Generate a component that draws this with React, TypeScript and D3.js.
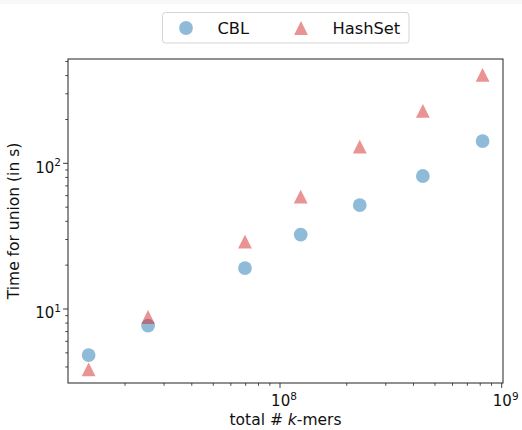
import React from 'react'
import * as d3 from 'd3'

// total number of k-mers per dataset, and union times (s)
const kmers = [1.37e7, 2.54e7, 6.95e7, 1.24e8, 2.29e8, 4.41e8, 8.2e8]
const cblTimes = [4.83, 7.68, 19.1, 32.4, 51.7, 81.8, 142]
const hashsetTimes = [3.85, 8.81, 29.0, 59, 130, 229, 404]

const seriesNames = ['CBL', 'HashSet']
const xTickExponents = [8, 9]
const yTickExponents = [1, 2]

const W = 522
const H = 430
const margin = { top: 59, right: 19, bottom: 47, left: 68 }
const FONT = 'DejaVu Sans, sans-serif'
const BLUE = '#1f77b4'
const RED = '#d62728'
const R = 6.9

const triangle = (cx: number, cy: number, r: number) =>
  `M${cx},${cy - r}L${cx + r},${cy + r}L${cx - r},${cy + r}Z`

const PowLabel = ({ x, y, exp, anchor }: { x: number, y: number, exp: number, anchor: string }) => (
  <text x={x} y={y} textAnchor={anchor} fontFamily={FONT} fontSize={15} fill="#111">
    10<tspan fontSize={10.5} dy={-6.5}>{exp}</tspan>
  </text>
)

const App = () => {
  const x = d3.scaleLog()
    .domain([Math.pow(10, 7.0437), Math.pow(10, 9.0059)])
    .range([margin.left, W - margin.right])
  const y = d3.scaleLog()
    .domain([Math.pow(10, 0.492), Math.pow(10, 2.716)])
    .range([H - margin.bottom, margin.top])

  const [x0, x1] = x.range()
  const [y0, y1] = y.range()

  const inside = (v: number, d: number[]) => v >= Math.min(d[0], d[1]) && v <= Math.max(d[0], d[1])
  const minorX = d3.range(7, 10).flatMap((e) => d3.range(2, 10).map((m) => m * Math.pow(10, e)))
    .filter((v) => inside(v, x.domain()))
  const minorY = d3.range(0, 3).flatMap((e) => d3.range(2, 10).map((m) => m * Math.pow(10, e)))
    .filter((v) => inside(v, y.domain()))

  return (
    <svg width={W} height={H} style={{ position: 'absolute', left: 0, top: 0 }}>
      <rect x={0} y={0} width={W} height={H} fill="#fff" />
      <rect x={0} y={0} width={W} height={4} fill="#f8f8f8" />

      {/* x ticks */}
      {minorX.map((v, i) => (
        <line key={`mx${i}`} x1={x(v)} x2={x(v)} y1={y0} y2={y0 + 2.8} stroke="#222" strokeWidth={0.8} />
      ))}
      {xTickExponents.map((e) => (
        <g key={`x${e}`}>
          <line x1={x(Math.pow(10, e))} x2={x(Math.pow(10, e))} y1={y0} y2={y0 + 4.9} stroke="#222" strokeWidth={0.9} />
          <PowLabel x={x(Math.pow(10, e)) + 4} y={y0 + 23} exp={e} anchor="middle" />
        </g>
      ))}

      {/* y ticks */}
      {minorY.map((v, i) => (
        <line key={`my${i}`} x1={x0 - 2.8} x2={x0} y1={y(v)} y2={y(v)} stroke="#222" strokeWidth={0.8} />
      ))}
      {yTickExponents.map((e) => (
        <g key={`y${e}`}>
          <line x1={x0 - 4.9} x2={x0} y1={y(Math.pow(10, e))} y2={y(Math.pow(10, e))} stroke="#222" strokeWidth={0.9} />
          <PowLabel x={x0 - 7} y={y(Math.pow(10, e)) + 9.5} exp={e} anchor="end" />
        </g>
      ))}

      {/* points */}
      {kmers.map((k, i) => (
        <circle key={`c${i}`} cx={x(k)} cy={y(cblTimes[i])} r={R} fill={BLUE} fillOpacity={0.5} />
      ))}
      {kmers.map((k, i) => (
        <path key={`t${i}`} d={triangle(x(k), y(hashsetTimes[i]), R)} fill={RED} fillOpacity={0.5} />
      ))}

      {/* frame */}
      <rect x={x0} y={y1} width={x1 - x0} height={y0 - y1} fill="none" stroke="#222" strokeWidth={1} />

      {/* axis labels */}
      <text x={(x0 + x1) / 2} y={425} textAnchor="middle" fontFamily={FONT} fontSize={15.5} fill="#111">
        total # <tspan fontStyle="italic">k</tspan>-mers
      </text>
      <text transform={`translate(19,${(y0 + y1) / 2}) rotate(-90)`} textAnchor="middle"
        fontFamily={FONT} fontSize={15.5} fill="#111">
        Time for union (in s)
      </text>

      {/* legend */}
      <rect x={162.5} y={12.5} width={246.5} height={30.5} rx={3} fill="#fff" stroke="#d5d5d5" strokeWidth={1} />
      <circle cx={186} cy={28} r={R} fill={BLUE} fillOpacity={0.5} />
      <text x={217.5} y={34} fontFamily={FONT} fontSize={16.3} fill="#111">{seriesNames[0]}</text>
      <path d={triangle(301, 28, R)} fill={RED} fillOpacity={0.5} />
      <text x={332.5} y={34} fontFamily={FONT} fontSize={16.3} fill="#111">{seriesNames[1]}</text>
    </svg>
  )
}

export default App
